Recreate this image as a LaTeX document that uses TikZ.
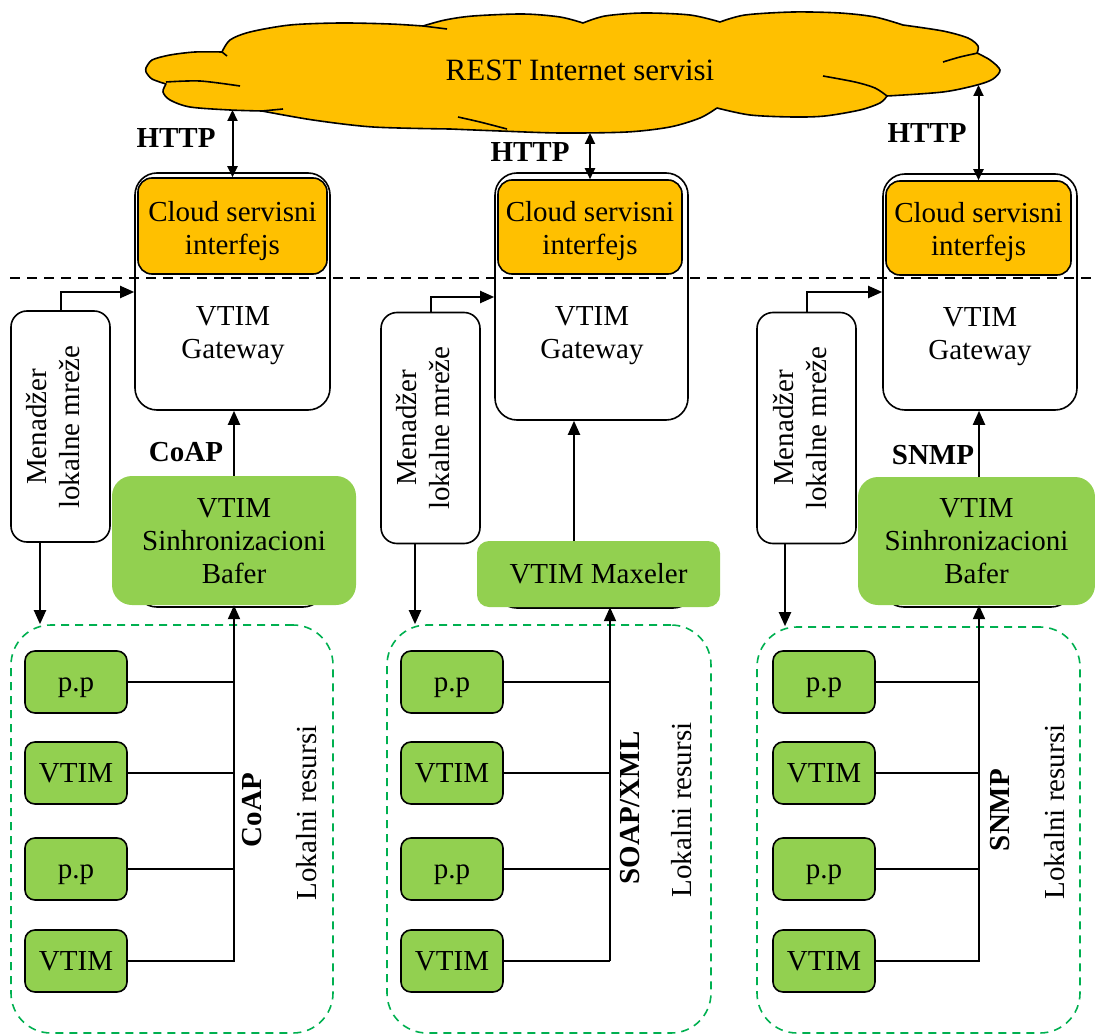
\documentclass[tikz,border=0pt]{standalone}
\usepackage{fontspec}
\setmainfont{Liberation Serif}
\usetikzlibrary{arrows.meta,positioning,calc}
\definecolor{cloudorange}{HTML}{FFC000}
\definecolor{leafgreen}{HTML}{92D050}
\definecolor{zonegreen}{HTML}{00B050}
\newcommand{\txtsize}{\fontsize{29}{33}\selectfont}
\tikzset{
  arr/.style={-{Triangle[length=14pt,width=12pt]},line width=2pt},
  dblarr/.style={{Triangle[length=11pt,width=10pt]}-{Triangle[length=11pt,width=10pt]},line width=2pt},
  bus/.style={line width=1.6pt},
  puff/.style={line width=1.6pt,line join=round},
  gwbox/.style={draw,line width=1.6pt,fill=white,rounded corners=22pt,inner sep=0pt},
  ifbox/.style={draw,line width=1.6pt,fill=cloudorange,rounded corners=14pt,inner sep=0pt},
  mgrbox/.style={draw,line width=1.6pt,fill=white,rounded corners=16pt,minimum width=99pt,minimum height=231pt,inner sep=0pt},
  bufbox/.style={fill=leafgreen,rounded corners=20pt,inner sep=0pt},
  leaf/.style={draw,line width=1.6pt,fill=leafgreen,rounded corners=10pt,minimum width=102pt,minimum height=62pt,
    inner sep=0pt,text height=19pt,text depth=0pt},
  zone/.style={draw=zonegreen,line width=1.6pt,dash pattern=on 8pt off 6pt,rounded corners=40pt,inner sep=0pt},
  lbl/.style={align=center,inner sep=0pt},
  proto/.style={font=\txtsize\bfseries},
  every node/.style={font=\txtsize}
}
\begin{document}
\begin{tikzpicture}[x=1pt,y=-1pt]
  \useasboundingbox (0,0) rectangle (1095,1035);
  % internet oblak
  \draw[puff,fill=cloudorange]
    plot[smooth] coordinates {(146,68) (152,60) (170,55) (195,52) (222,52)}
    -- plot[smooth] coordinates {(222,52) (230,40) (250,32) (290,25) (340,23) (390,24) (423,26)}
    -- plot[smooth] coordinates {(423,26) (445,20) (473,16) (523,14) (560,17) (583,23)}
    -- plot[smooth] coordinates {(583,23) (605,16) (643,13) (690,15) (720,22)}
    -- plot[smooth] coordinates {(720,22) (745,15) (793,12) (840,13) (875,17) (903,25)}
    -- plot[smooth] coordinates {(903,25) (943,31) (968,38) (978,46) (977,53)}
    -- plot[smooth] coordinates {(977,53) (990,60) (1000,70) (993,79) (977,85) (943,92) (887,96)}
    -- plot[smooth] coordinates {(887,96) (880,103) (860,110) (825,116) (793,117) (750,115) (717,108)}
    -- plot[smooth] coordinates {(717,108) (700,118) (670,127) (627,132) (560,133) (500,131) (450,129)}
    -- plot[smooth] coordinates {(450,129) (373,127) (313,120) (262,111)}
    -- plot[smooth] coordinates {(262,111) (230,110) (190,107) (170,100) (163,92) (166,84)}
    -- plot[smooth] coordinates {(166,84) (152,79) (146,72) (146,68)} -- cycle;
  \draw[puff] plot[smooth] coordinates {(166,82) (200,81) (240,86)};
  \draw[puff] (262,111) -- (283,109);
  \draw[puff] (423,26) -- (447,29);
  \draw[puff] (222,52) -- (227,56);
  \draw[puff] plot[smooth] coordinates {(943,62) (960,57) (978,53)};
  \draw[puff] plot[smooth] coordinates {(823,76) (855,82) (875,88) (887,96)};
  \draw[puff] plot[smooth] coordinates {(458,117) (480,122) (507,129)};
  \node[font=\fontsize{31}{35}\selectfont] (net) at (580,70) {REST Internet servisi};
  % gateway kutije
  \node[gwbox,minimum width=195pt,minimum height=237pt] (gw1) at (232.5,291.5) {};
  \node[gwbox,minimum width=193pt,minimum height=247pt] (gw2) at (591.5,296.5) {};
  \node[gwbox,minimum width=194pt,minimum height=236pt] (gw3) at (980,292) {};
  \node[ifbox,minimum width=189pt,minimum height=96pt] (ci1) at (232.5,226) {};
  \node[ifbox,minimum width=184pt,minimum height=94pt] (ci2) at (590,227) {};
  \node[ifbox,minimum width=185pt,minimum height=94pt] (ci3) at (978.5,228) {};
  \node[lbl] (cit1) at (232.5,231) {Cloud servisni\\interfejs};
  \node[lbl] (cit2) at (590,231) {Cloud servisni\\interfejs};
  \node[lbl] (cit3) at (978.5,232) {Cloud servisni\\interfejs};
  \node[lbl] (gwt1) at (233,336) {VTIM\\Gateway};
  \node[lbl] (gwt2) at (592,336) {VTIM\\Gateway};
  \node[lbl] (gwt3) at (980,337) {VTIM\\Gateway};
  \draw[line width=2pt,dash pattern=on 10pt off 7pt] (10,278) -- (1095,278);
  % HTTP veze
  \coordinate (h1) at (232.5,110);
  \coordinate (h2) at (590,133);
  \coordinate (h3) at (978.5,85);
  \draw[dblarr] (h1) -- (ci1.north);
  \draw[dblarr] (h2) -- (ci2.north);
  \draw[dblarr] (h3) -- (ci3.north);
  \node[proto] (http1) at (176,138) {HTTP};
  \node[proto] (http2) at (530,152) {HTTP};
  \node[proto] (http3) at (927,133) {HTTP};
  % baferi
  \node[gwbox,minimum width=190pt,minimum height=70pt] (sh1) at (230,572) {};
  \node[gwbox,minimum width=200pt,minimum height=50pt] (sh2) at (595,583) {};
  \node[gwbox,minimum width=191pt,minimum height=70pt] (sh3) at (977.5,572) {};
  \node[bufbox,minimum width=244pt,minimum height=129pt] (sb1) at (234,540.5) {};
  \node[bufbox,minimum width=243pt,minimum height=66pt,rounded corners=12pt] (mx2) at (598.5,574) {};
  \node[bufbox,minimum width=237pt,minimum height=128pt] (sb3) at (976.5,541) {};
  \node[lbl] (sbt1) at (234,541) {VTIM\\Sinhronizacioni\\Bafer};
  \node[lbl] (mxt2) at (598.5,574) {VTIM Maxeler};
  \node[lbl] (sbt3) at (976.5,541) {VTIM\\Sinhronizacioni\\Bafer};
  \coordinate (g2) at (574,541);
  \coordinate (g3) at (979,477);
  \draw[arr] (sb1.north) -- (sb1.north |- gw1.south);
  \draw[arr] (g2) -- (g2 |- gw2.south);
  \draw[arr] (g3) -- (g3 |- gw3.south);
  \node[proto] (coap1) at (186,452) {CoAP};
  \node[proto] (snmp3) at (933,455) {SNMP};
  % menadzeri lokalne mreze
  \node[mgrbox] (mg1) at (60.5,426.5) {};
  \node[mgrbox] (mg2) at (430.5,428) {};
  \node[mgrbox] (mg3) at (806.5,428) {};
  \node[lbl,rotate=90] (mgt1) at (53,427) {Menadžer\\lokalne mreže};
  \node[lbl,rotate=90] (mgt2) at (423,428) {Menadžer\\lokalne mreže};
  \node[lbl,rotate=90] (mgt3) at (800,428) {Menadžer\\lokalne mreže};
  \coordinate (in1) at (gw1.west |- 0,292);
  \coordinate (in2) at (gw2.west |- 0,297);
  \coordinate (in3) at (gw3.west |- 0,292);
  \draw[arr] (mg1.north) |- (in1);
  \draw[arr] (mg2.north) |- (in2);
  \draw[arr] (mg3.north) |- (in3);
  % lokalni resursi
  \node[zone,minimum width=322pt,minimum height=408pt] (lr1) at (172,829) {};
  \node[zone,minimum width=324pt,minimum height=408pt] (lr2) at (549,829) {};
  \node[zone,minimum width=323pt,minimum height=406pt] (lr3) at (918.5,830) {};
  \coordinate (d1) at (40,0);
  \coordinate (d2) at (415,0);
  \coordinate (d3) at (785,0);
  \draw[arr] (mg1.south -| d1) -- (lr1.north -| d1);
  \draw[arr] (mg2.south -| d2) -- (lr2.north -| d2);
  \draw[arr] (mg3.south -| d3) -- (lr3.north -| d3);
  \coordinate (b1) at (234,962);
  \coordinate (b2) at (610,960);
  \coordinate (b3) at (979,962);
  \foreach \c/\lx in {1/76,2/452,3/824}{
    \foreach \y/\t [count=\i] in {682/p.p,773/VTIM,869/p.p,961/VTIM}{
      \node[leaf] (l\c\i) at (\lx,\y) {\t};
      \draw[bus] (l\c\i.east) -- (l\c\i.east -| b\c);
    }
  }
  \draw[bus] (l14.east -| b1) -- (b1);
  \draw[bus] (l24.east -| b2) -- (b2);
  \draw[bus] (l34.east -| b3) -- (b3);
  \draw[arr] (b1) -- (sb1.south);
  \draw[arr] (b2) -- (b2 |- mx2.south);
  \draw[arr] (b3) -- (b3 |- sb3.south);
  \node[proto,rotate=90] (coap2) at (252,810) {CoAP};
  \node[proto,rotate=90] (soap2) at (630,808) {SOAP/XML};
  \node[proto,rotate=90] (snmp2) at (1000,810) {SNMP};
  \node[rotate=90] (lrt1) at (307,813) {Lokalni resursi};
  \node[rotate=90] (lrt2) at (682,810) {Lokalni resursi};
  \node[rotate=90] (lrt3) at (1055,812) {Lokalni resursi};
\end{tikzpicture}
\end{document}
